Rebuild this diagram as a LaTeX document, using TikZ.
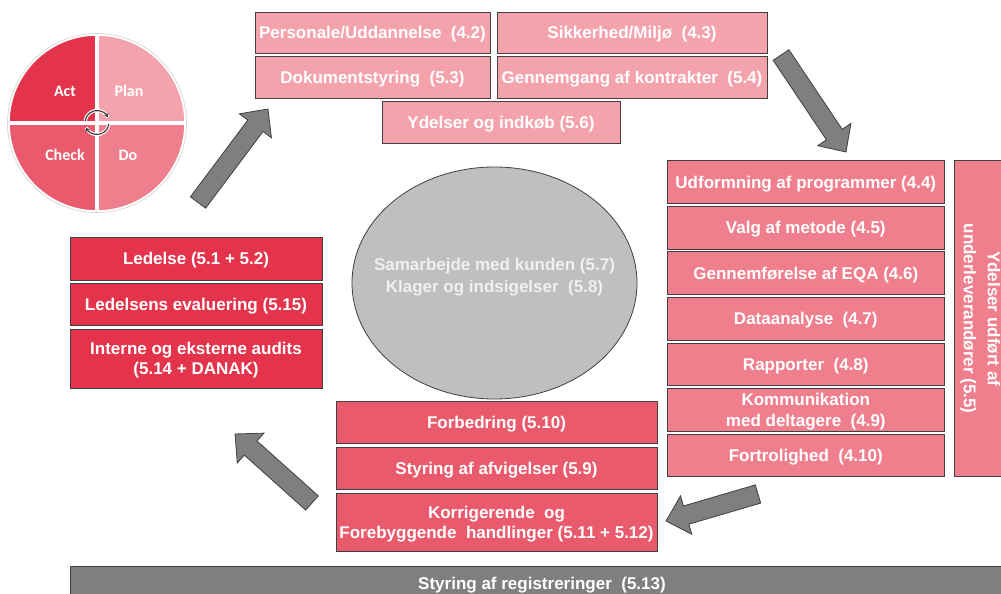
\documentclass[tikz,border=0pt]{standalone}
\usepackage{fontspec}
\setmainfont{Liberation Sans}
\newfontfamily\calib{Carlito}
\usetikzlibrary{calc,arrows.meta,shapes.geometric}
\definecolor{cLight}{HTML}{F4A3AC}
\definecolor{cMid}{HTML}{EF7F8C}
\definecolor{cDark}{HTML}{E4344C}
\definecolor{cRed}{HTML}{E95B6C}
\definecolor{cGray}{HTML}{7F7F7F}
\definecolor{cEll}{HTML}{BFBFBF}
\definecolor{cBorder}{HTML}{404040}
\definecolor{cEllText}{HTML}{F0F0F0}
\tikzset{
  procbox/.style={draw=cBorder, line width=0.8pt, text=white,
    font=\fontsize{17}{20}\selectfont\bfseries, inner sep=0pt, align=center, anchor=center},
  oneline/.style={text height=12.4pt, text depth=0.4pt},
  twoline/.style={text depth=0pt},
  blockarrow/.style={fill=cGray, draw=cBorder, line width=0.8pt, line join=miter},
  pdcalabel/.style={text=white, font=\calib\fontsize{16}{19}\selectfont\bfseries, inner sep=0pt},
  cyclearc/.style={draw=black!75, line width=1.2pt},
  cyclehalo/.style={draw=white, line width=3.4pt},
}
\newcommand\blockarr[2]{%
  \coordinate (bH) at ($(#2)!21pt!(#1)$);
  \draw[blockarrow] ($(#1)!9.5pt!90:(#2)$) -- ($(bH)!9.5pt!-90:(#1)$) -- ($(bH)!20pt!-90:(#1)$) -- (#2)
    -- ($(bH)!20pt!90:(#1)$) -- ($(bH)!9.5pt!90:(#1)$) -- ($(#1)!9.5pt!-90:(#2)$) -- cycle;
}
\begin{document}
\begin{tikzpicture}[x=1pt,y=-1pt]
\useasboundingbox (0,0) rectangle (1001,594);
\clip (0,0) rectangle (1001,594);
\fill[white] (0,0) rectangle (1001,594);

% PDCA circle
\coordinate (pc) at (97,123);
\fill[cDark] (pc) -- ++(180:88) arc[start angle=180, end angle=270, radius=88] -- cycle;
\fill[cLight] (pc) -- ++(270:88) arc[start angle=270, end angle=360, radius=88] -- cycle;
\fill[cMid] (pc) -- ++(0:88) arc[start angle=0, end angle=90, radius=88] -- cycle;
\fill[cRed] (pc) -- ++(90:88) arc[start angle=90, end angle=180, radius=88] -- cycle;
\draw[white, line width=4pt] ($(pc)+(-90,0)$) -- ($(pc)+(90,0)$);
\draw[white, line width=4pt] ($(pc)+(0,-90)$) -- ($(pc)+(0,90)$);
\draw[white, line width=1.5pt] (pc) circle[radius=88];
\draw[gray!35, line width=0.6pt] (pc) circle[radius=89.5];
\node[pdcalabel] (act) at (65,91) {Act};
\node[pdcalabel] (plan) at (129,91) {Plan};
\node[pdcalabel] (check) at (65,155) {Check};
\node[pdcalabel] (do) at (128,155) {Do};
% cycle icon
\coordinate (cy) at (97,122.5);
\draw[cyclehalo] (cy) ++(188:12) arc[start angle=188, end angle=335, radius=12];
\draw[cyclehalo] (cy) ++(8:12) arc[start angle=8, end angle=155, radius=12];
\draw[cyclearc, -{Stealth[length=4pt,width=5pt]}] (cy) ++(188:12) arc[start angle=188, end angle=335, radius=12];
\draw[cyclearc, -{Stealth[length=4pt,width=5pt]}] (cy) ++(8:12) arc[start angle=8, end angle=155, radius=12];

% top group
\node[procbox, oneline, fill=cLight, minimum width=235, minimum height=41] (p42) at (372.5,32.5) {Personale/Uddannelse\ \ (4.2)};
\node[procbox, oneline, fill=cLight, minimum width=270, minimum height=41] (p43) at (632,32.5) {Sikkerhed/Miljø\ \ (4.3)};
\node[procbox, oneline, fill=cLight, minimum width=235, minimum height=42] (p53) at (372.5,77) {Dokumentstyring\ \ (5.3)};
\node[procbox, oneline, fill=cLight, minimum width=270, minimum height=42] (p54) at (632,77) {Gennemgang af kontrakter\ \ (5.4)};
\node[procbox, oneline, fill=cLight, minimum width=238, minimum height=42] (p56) at (501,122) {Ydelser og indkøb (5.6)};

% right column
\node[procbox, oneline, fill=cMid, minimum width=277, minimum height=42.5] (p44) at (805.8,182) {Udformning af programmer (4.4)};
\node[procbox, oneline, fill=cMid, minimum width=277, minimum height=42.5] (p45) at (805.8,227.8) {Valg af metode (4.5)};
\node[procbox, oneline, fill=cMid, minimum width=277, minimum height=42.5] (p46) at (805.8,273) {Gennemførelse af EQA (4.6)};
\node[procbox, oneline, fill=cMid, minimum width=277, minimum height=42.5] (p47) at (805.8,318.8) {Dataanalyse\ \ (4.7)};
\node[procbox, oneline, fill=cMid, minimum width=277, minimum height=42.5] (p48) at (805.8,364.3) {Rapporter\ \ (4.8)};
\node[procbox, twoline, fill=cMid, minimum width=277, minimum height=42.5, font=\fontsize{17}{21}\selectfont\bfseries] (p49) at (805.8,409.8) {Kommunikation\\med deltagere\ \ (4.9)};
\node[procbox, oneline, fill=cMid, minimum width=277, minimum height=42.5] (p410) at (805.8,455.3) {Fortrolighed\ \ (4.10)};
\node[procbox, fill=cMid, rotate=-90, minimum width=316, minimum height=52, font=\fontsize{17}{24}\selectfont\bfseries] (p55) at (980.3,318.7) {Ydelser udført af\\underleverandører (5.5)};

% left group
\node[procbox, oneline, fill=cDark, minimum width=252, minimum height=42.3] (p51) at (196,258.8) {Ledelse (5.1 + 5.2)};
\node[procbox, oneline, fill=cDark, minimum width=252, minimum height=42.7] (p515) at (196,304.3) {Ledelsens evaluering (5.15)};
\node[procbox, twoline, fill=cDark, minimum width=252, minimum height=59.3] (p514) at (196,358.7) {Interne og eksterne audits\\(5.14 + DANAK)};

% bottom middle group
\node[procbox, oneline, fill=cRed, minimum width=321, minimum height=41.6] (p510) at (496.5,422.5) {Forbedring (5.10)};
\node[procbox, oneline, fill=cRed, minimum width=321, minimum height=42] (p59) at (496.5,468.3) {Styring af afvigelser (5.9)};
\node[procbox, twoline, fill=cRed, minimum width=321, minimum height=58.4] (p511) at (496.5,522.5) {Korrigerende\ \ og\\Forebyggende\ \ handlinger (5.11 + 5.12)};

% ellipse
\node[ellipse, draw=cBorder, fill=cEll, line width=0.8pt, minimum width=285, minimum height=232, inner sep=0pt] (ell) at (494.5,283) {};
\node[text=cEllText, font=\fontsize{17}{22}\selectfont\bfseries, align=center, inner sep=0pt] (elltxt) at (494.5,277) {Samarbejde med kunden (5.7)\\Klager og indsigelser\ \ (5.8)};

% bottom bar
\node[procbox, oneline, fill=cGray, minimum width=944, minimum height=34] (p513) at (542,583) {Styring af registreringer\ \ (5.13)};

% block arrows
\coordinate (a1t) at (198,202.5);
\coordinate (a1h) at (268,109);
\coordinate (a2t) at (781,55);
\coordinate (a2h) at (846,152);
\coordinate (a3t) at (758,494);
\coordinate (a3h) at (666,521);
\coordinate (a4t) at (312,503);
\coordinate (a4h) at (235,434);
\blockarr{a1t}{a1h}
\blockarr{a2t}{a2h}
\blockarr{a3t}{a3h}
\blockarr{a4t}{a4h}
\end{tikzpicture}
\end{document}
